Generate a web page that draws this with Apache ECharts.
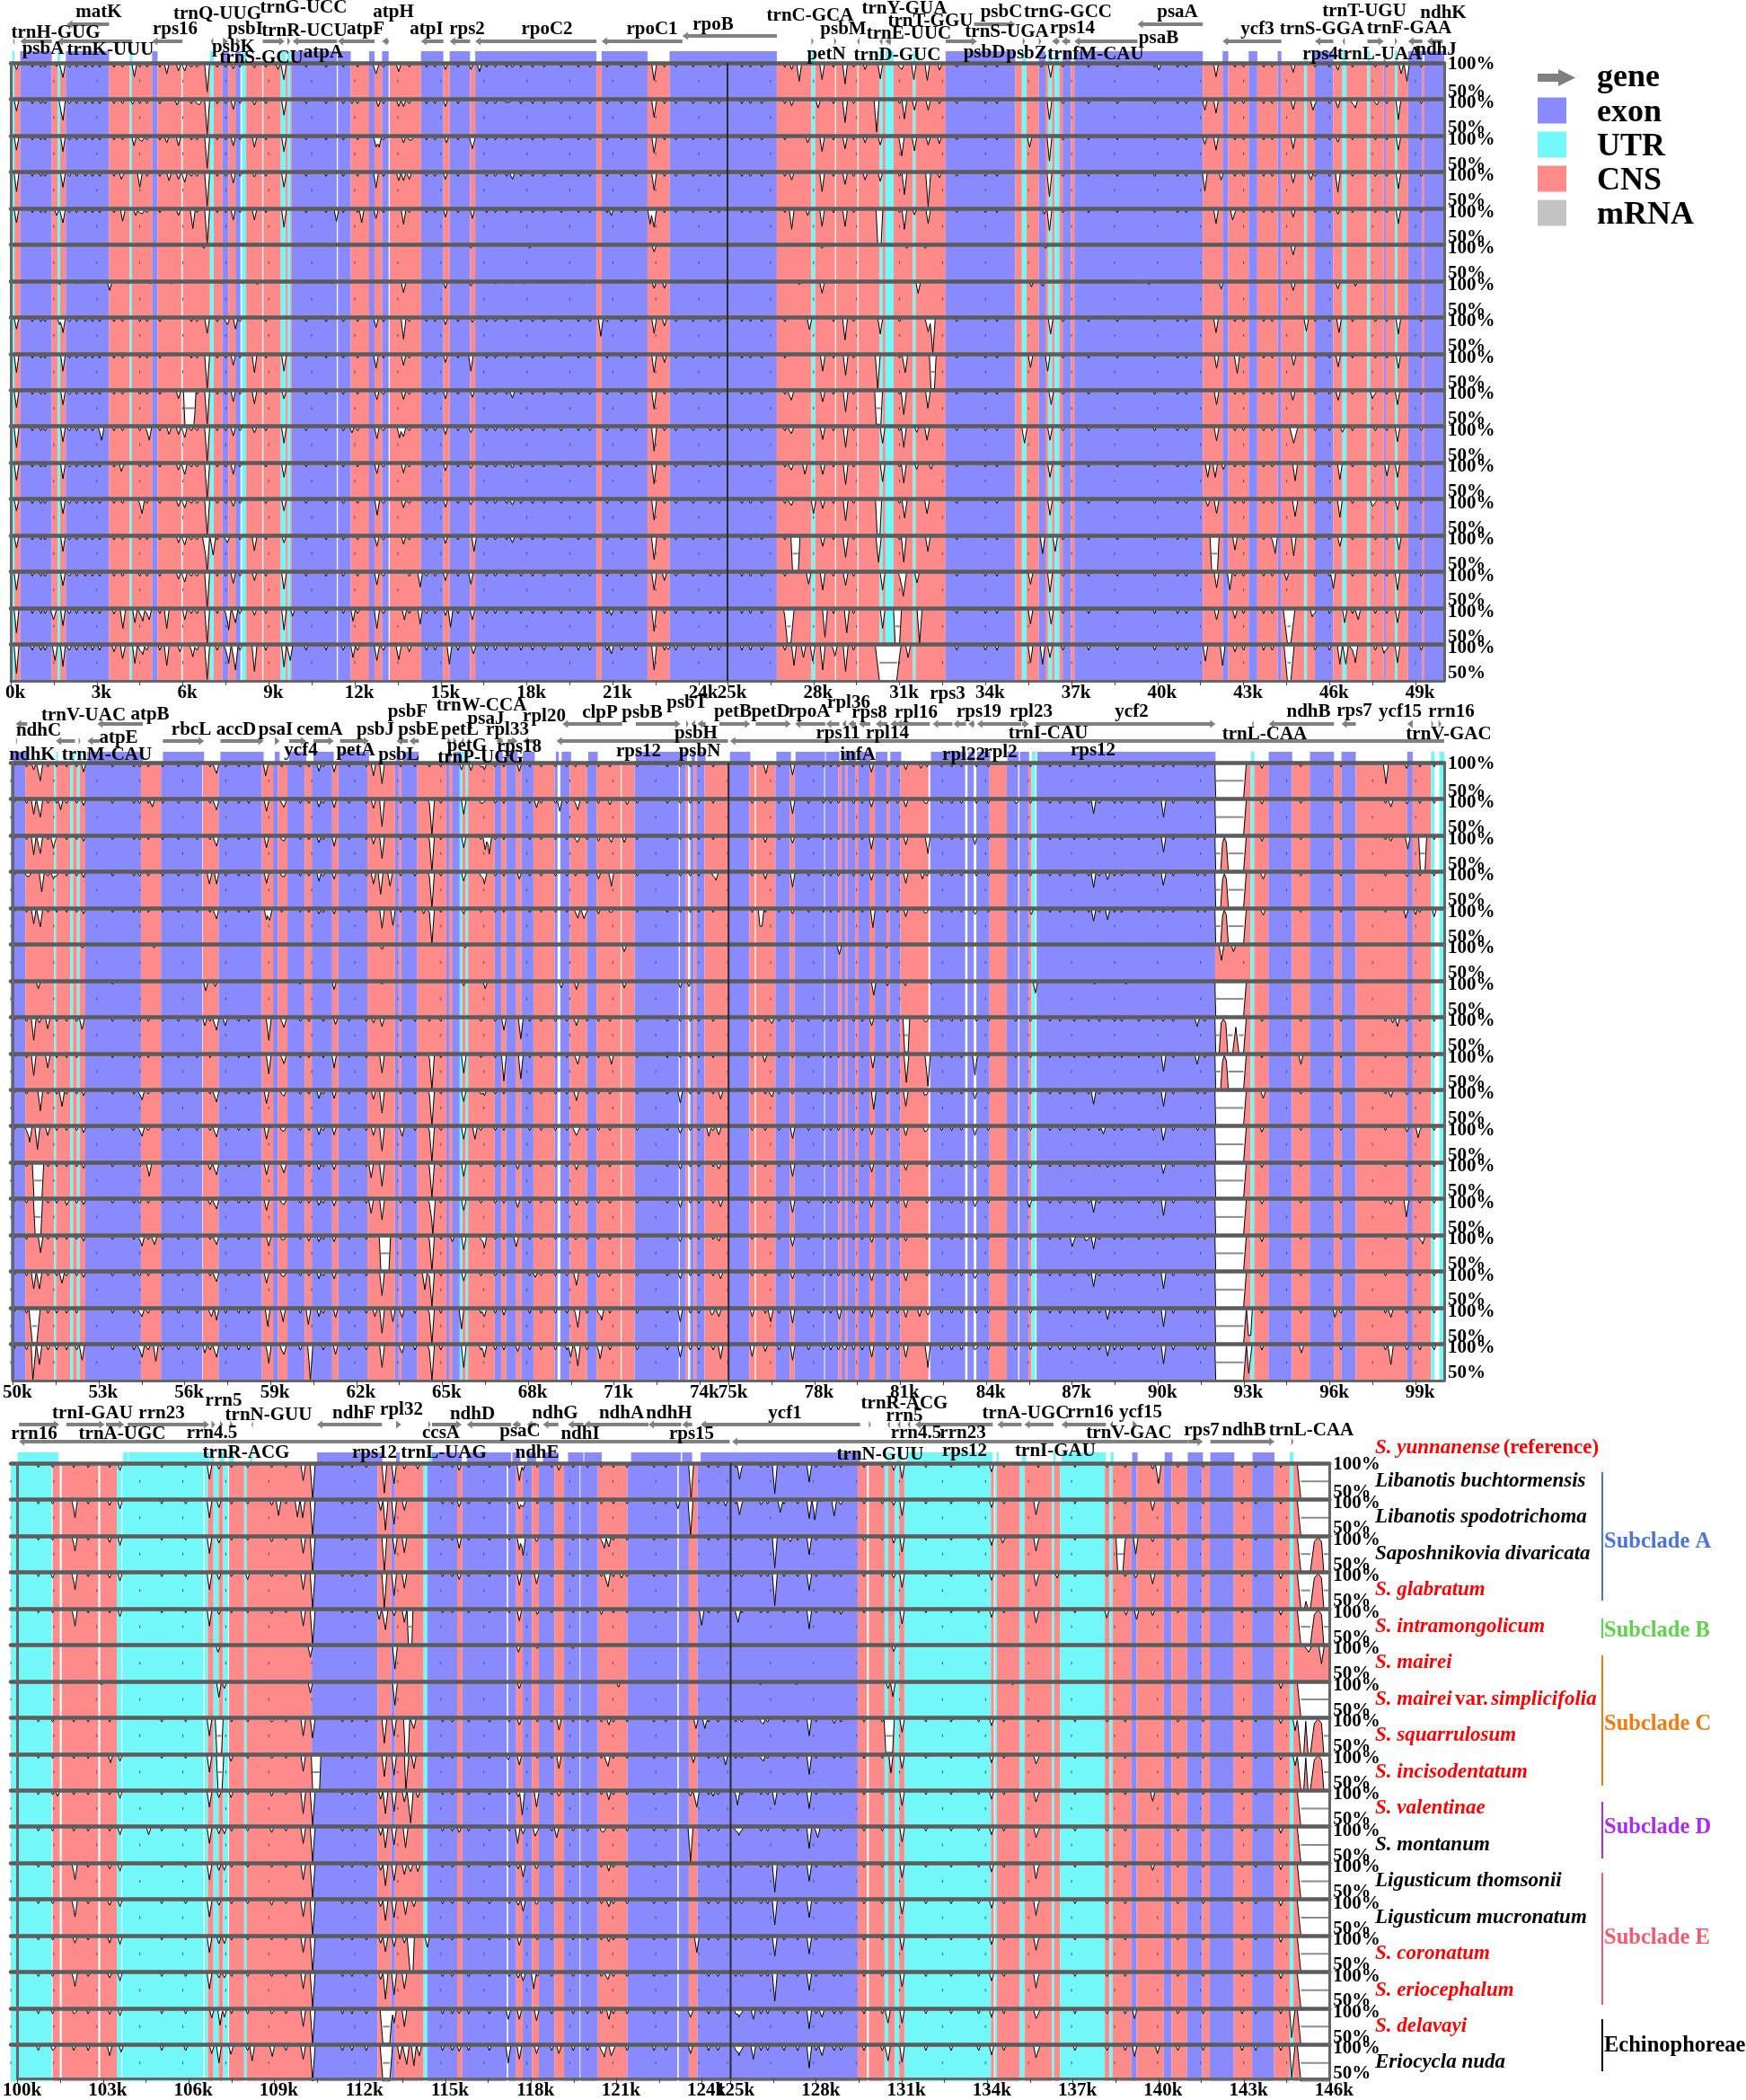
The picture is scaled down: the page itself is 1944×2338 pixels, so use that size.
<!DOCTYPE html>
<html><head><meta charset="utf-8">
<script src="https://cdn.jsdelivr.net/npm/echarts@6/dist/echarts.min.js"></script>
<style>html,body{margin:0;padding:0;background:#fff}#c{width:1944px;height:2338px}</style>
</head><body><div id="c"></div>
<script>
// ---------- species ----------
const referenceName = 'S. yunnanense';
const speciesNames = ['Libanotis buchtormensis','Libanotis spodotrichoma','Saposhnikovia divaricata','S. glabratum','S. intramongolicum','S. mairei','S. mairei var. simplicifolia','S. squarrulosum','S. incisodentatum','S. valentinae','S. montanum','Ligusticum thomsonii','Ligusticum mucronatum','S. coronatum','S. eriocephalum','S. delavayi','Eriocycla nuda'];
const speciesRed = [0,0,0,1,1,1,1,1,1,1,0,0,0,1,1,1,0];
const cladeNames = ['Subclade A','Subclade B','Subclade C','Subclade D','Subclade E','Echinophoreae'];
const legendNames = ['gene','exon','UTR','CNS','mRNA'];

// ---------- conserved-region bands [start kb, end kb, type] e=exon u=UTR c=CNS ----------
const bands1 = [[.05,.13,'u'],[.13,.33,'c'],[.33,1.43,'e'],[1.43,1.63,'c'],[1.63,1.72,'u'],[1.72,1.92,'c'],[1.92,3.43,'e'],[3.43,4.15,'c'],[4.15,4.23,'u'],[4.23,4.93,'c'],[4.93,5.12,'e'],[5.12,5.95,'c'],[6,6.95,'c'],[6.95,7.08,'u'],[7.08,7.38,'c'],[7.38,7.6,'e'],[7.6,7.84,'c'],[7.84,8.01,'e'],[8.06,8.21,'u'],[8.21,8.77,'c'],[8.81,9.42,'c'],[9.42,9.59,'u'],[9.59,9.65,'c'],[9.65,9.75,'u'],[9.75,9.8,'c'],[9.8,11.37,'e'],[11.41,11.86,'e'],[11.86,12.5,'c'],[12.5,12.69,'e'],[12.69,12.95,'c'],[12.95,13.18,'e'],[13.22,14.31,'c'],[14.31,15.09,'e'],[15.09,15.31,'c'],[15.31,16.02,'e'],[16.02,16.2,'c'],[16.2,20.43,'e'],[20.43,20.61,'c'],[20.61,22.21,'e'],[22.21,22.98,'c'],[22.98,26.72,'e'],[26.72,27.93,'c'],[27.93,28.06,'u'],[28.06,28.75,'c'],[28.79,29.53,'c'],[29.57,30.31,'c'],[30.31,30.42,'u'],[30.42,30.51,'c'],[30.51,30.79,'u'],[30.79,31.47,'c'],[31.47,31.56,'u'],[31.56,32.61,'c'],[32.61,35.04,'e'],[35.04,35.27,'c'],[35.27,35.43,'u'],[35.43,35.86,'c'],[35.86,36.09,'e'],[36.09,36.18,'c'],[36.18,36.32,'u'],[36.32,36.41,'c'],[36.41,36.57,'u'],[36.57,36.69,'c'],[36.69,36.98,'e'],[36.98,37.1,'c'],[37.1,41.58,'e'],[41.58,42.27,'c'],[42.27,42.47,'e'],[42.47,43.18,'c'],[43.18,43.48,'e'],[43.48,44.19,'c'],[44.19,44.32,'e'],[44.32,45.12,'c'],[45.12,45.21,'u'],[45.21,45.49,'c'],[45.49,46.13,'e'],[46.13,46.45,'c'],[46.45,46.59,'u'],[46.59,47.32,'c'],[47.32,47.41,'u'],[47.41,47.89,'c'],[47.89,47.96,'e'],[47.96,48.28,'c'],[48.28,48.37,'u'],[48.37,48.74,'c'],[48.74,49.24,'e'],[49.24,49.31,'c'],[49.31,50,'e']];
const bands2 = [[50,50.51,'e'],[50.51,51.51,'c'],[51.51,51.58,'u'],[51.58,52.07,'c'],[52.07,52.17,'u'],[52.17,52.31,'c'],[52.31,52.4,'u'],[52.4,52.6,'c'],[52.6,54.54,'e'],[54.54,55.24,'c'],[55.24,56.68,'e'],[56.7,57.25,'c'],[57.25,58.76,'e'],[58.76,59.15,'c'],[59.15,59.32,'e'],[59.32,59.65,'c'],[59.65,60.25,'e'],[60.25,60.5,'c'],[60.5,61.21,'e'],[61.21,61.43,'c'],[61.43,62.44,'e'],[62.44,63.4,'c'],[63.4,63.53,'e'],[63.53,63.62,'c'],[63.62,64.18,'e'],[64.18,65.19,'c'],[65.19,65.29,'e'],[65.29,65.39,'c'],[65.39,65.66,'e'],[65.66,65.75,'u'],[65.75,65.87,'c'],[65.87,65.95,'u'],[65.95,66.88,'c'],[66.88,67.11,'e'],[67.11,67.28,'c'],[67.28,67.63,'e'],[67.63,67.81,'c'],[67.81,68.23,'e'],[68.23,68.97,'c'],[68.97,69.07,'e'],[69.17,69.5,'e'],[69.5,70.1,'c'],[70.1,70.43,'e'],[70.43,71.27,'c'],[71.31,71.76,'c'],[71.76,73.3,'e'],[73.34,73.55,'e'],[73.55,73.62,'c'],[73.7,73.83,'e'],[73.83,73.91,'c'],[73.91,74.2,'e'],[74.2,75.05,'c'],[75.05,75.76,'e'],[75.76,75.95,'c'],[75.99,76.67,'c'],[76.67,77.18,'e'],[77.18,77.34,'c'],[77.34,78.37,'e'],[78.4,78.87,'e'],[78.87,78.97,'c'],[78.97,79.11,'e'],[79.11,79.18,'c'],[79.18,79.45,'e'],[79.45,79.55,'c'],[79.55,79.95,'e'],[79.95,80.14,'c'],[80.14,80.55,'e'],[80.55,80.65,'c'],[80.65,81.03,'e'],[81.03,82.01,'c'],[82.07,83.29,'e'],[83.37,83.59,'e'],[83.68,84.14,'e'],[84.14,84.74,'c'],[84.74,85.14,'e'],[85.18,85.5,'e'],[85.5,85.6,'c'],[85.6,85.74,'u'],[85.78,92.01,'e'],[92.01,93.25,'c'],[93.25,93.37,'u'],[93.37,93.87,'c'],[93.87,94.69,'e'],[94.69,95.31,'c'],[95.31,96.15,'e'],[96.15,96.41,'c'],[96.41,96.91,'e'],[96.91,98.71,'c'],[98.71,98.9,'e'],[98.9,99.54,'c'],[99.54,99.66,'u'],[99.83,100,'u']];
const bands3 = [[100,101.43,'u'],[101.46,101.71,'c'],[101.78,103.05,'c'],[103.12,103.7,'c'],[103.7,103.86,'u'],[103.89,106.72,'u'],[106.76,106.88,'u'],[106.88,107.07,'c'],[107.07,107.25,'u'],[107.25,107.41,'c'],[107.41,107.58,'u'],[107.61,108.14,'c'],[108.14,108.23,'u'],[108.23,110.5,'c'],[110.5,112.79,'e'],[112.79,113.27,'c'],[113.27,113.4,'e'],[113.4,114.4,'c'],[114.4,114.53,'u'],[114.53,115.57,'e'],[115.57,115.75,'c'],[115.75,117.3,'e'],[117.35,117.63,'e'],[117.63,117.86,'c'],[117.86,118.18,'e'],[118.18,118.42,'c'],[118.42,118.96,'e'],[118.96,119.3,'c'],[119.3,119.84,'e'],[119.87,120.48,'e'],[120.48,121.51,'c'],[121.51,123.25,'e'],[123.3,123.65,'e'],[123.65,123.95,'c'],[123.95,129.54,'e'],[129.54,129.86,'c'],[129.93,130.48,'c'],[130.48,130.61,'u'],[130.61,130.83,'c'],[130.83,130.99,'u'],[130.99,131.17,'c'],[131.17,134.19,'u'],[134.19,134.29,'c'],[134.32,134.4,'u'],[134.4,135.2,'c'],[135.2,135.36,'u'],[135.36,136.32,'c'],[136.32,136.4,'u'],[136.4,136.6,'c'],[136.6,138.16,'u'],[138.16,138.32,'c'],[138.32,138.43,'u'],[138.43,139.08,'c'],[139.08,139.27,'e'],[139.27,140.22,'c'],[140.22,140.49,'e'],[140.49,141.03,'c'],[141.03,141.56,'e'],[141.56,141.82,'c'],[141.82,142.66,'e'],[142.66,143.3,'c'],[143.3,144.07,'e'],[144.07,144.61,'c'],[144.61,144.74,'u'],[144.74,146,'c']];

// ---------- tick labels ----------
const tickLabels1 = [0,3,6,9,12,15,18,21,24,25,28,31,34,37,40,43,46,49];
const tickLabels2 = [50,53,56,59,62,65,68,71,74,75,78,81,84,87,90,93,96,99];
const tickLabels3 = [100,103,106,109,112,115,118,121,124,125,128,131,134,137,140,143,146];
const pctLabels = ['100%','50%'];

// ---------- small blips shared by most rows (kb) ----------
const small1 = [.75,1.05,1.2,2.05,2.3,2.6,2.85,3.1,3.6,3.9,4.5,4.75,5.2,6.3,6.5,7.2,7.5,8,8.9,10.3,11,11.6,12.1,13,13.9,14.5,14.8,15.6,16.6,16.9,17.3,17.8,18.2,18.6,19.2,19.8,20.2,20.8,21.3,21.8,22.8,23.2,23.8,24.4,24.7,25.5,25.8,26.2,27,28.7,29.4,31,33,34,34.4,36.7,37.6,38.6,39.9,40.7,41,42.7,43,43.7,44,45.5,46,46.8,47.6,48,49.2];
const small2 = [50.1,50.55,51.3,51.6,51.95,52.3,53.55,54.3,54.5,54.8,55.3,55.85,56.5,56.95,57.5,57.95,58.3,58.95,59.45,60.1,60.4,60.9,61.8,62.4,63.6,64.1,64.6,65,66.4,66.9,67.2,68.1,68.5,69,69.4,69.7,70.1,70.5,70.9,71.85,72.9,73.35,73.7,74,74.5,75.86,76.32,76.8,77.27,77.83,78.35,78.6,78.87,79.4,79.7,80.58,80.93,81.96,82.47,82.82,83.16,83.68,84.1,85.05,85.57,86.25,86.6,87.1,87.6,87.97,88.5,88.75,89.35,89.86,90.2,90.55,91.4,91.65,93.64,95,96.4,97.95,98.7,99.15,99.65];
const small3 = [100.96,101.46,102.2,102.7,103.45,105.27,106.1,107.7,108.26,109.1,109.6,111.57,111.9,112.4,115.06,115.4,115.97,116.7,117.38,118.37,118.87,119.62,120.12,120.6,121.02,121.5,122.44,122.85,124.34,124.67,125.29,125.5,126.17,126.4,126.97,127.45,128.09,128.72,128.96,129.76,130.4,131.92,132.8,133.76,134.64,135.84,137.12,138.24,138.87,140.71,141.59,142.95,143.43,144.3];
const smallLevel = [94,94,94,94,94,null,null,94,94,94,94,94,94,94,94,92.5,92];

// ---------- identity dips per row: [kb, % identity, slope kb, flat half-width kb] ----------
const dips1 = [
[[.2,91],[1.6,95],[1.82,80],[4.31,81],[5.44,85],[5.85,89],[6.07,89],[6.85,60],[7.76,92],[8.5,93],[9.32,91],[9.53,77],[12.74,85,.12],[13.53,88,.1],[15.16,91],[16.05,91],[16.35,88],[17.5,94],[22.44,76],[27.24,91],[27.5,74.5],[28.3,77],[29.1,71],[29.8,91],[30.33,78],[31.08,91],[31.5,77],[31.97,76],[32.4,90],[35.95,94],[36.27,80],[40.05,90],[42.04,81],[44.73,87],[46.29,90],[48.5,85],[48.7,74.5]],
[[.2,84],[1.76,82],[1.82,71],[4.25,93],[5.8,92],[6.6,90],[6.85,52],[7.76,86],[8.5,92],[9.53,78],[11.9,94],[12.82,90],[13.53,90],[13.7,90],[15.16,90],[17.4,95,.12],[22.44,75],[27.24,91],[28.16,88],[29.1,68],[30.2,55],[31.17,73],[31.52,85],[32,85],[32.39,94],[36.23,72],[41.65,85],[42.04,81],[44.73,86],[45.42,85],[46.29,88],[46.9,88],[47.66,92],[48.4,72]],
[[.2,80],[1.82,78],[4.3,86],[4.6,90],[5.44,90],[5.85,86],[6.85,55],[7.76,86],[8.5,84],[9.53,78],[12.74,84],[12.85,84],[13.7,90],[14,92],[15.2,90],[16.1,82,.12],[17.5,95],[22.44,76],[27.8,90],[28.3,78],[29.1,82],[29.8,90],[30.33,87],[31.08,72],[31.52,79],[32,87],[32.39,89],[35.54,84],[36.23,65],[41.65,88],[42.04,80],[44.73,82],[46.29,91],[48.4,80]],
[[.2,73],[1.82,79],[3.86,90],[4.5,79],[5.52,88],[5.85,90],[6.07,86],[6.85,53],[7.76,85],[8.5,93],[9.53,79],[12.74,78],[13.53,88],[13.7,88],[13.9,90],[15.16,90],[17.5,90],[22.44,75],[27.24,89],[28.3,73],[29.1,83],[29.8,89],[30.33,87],[31.17,69],[32,52],[32.39,92],[36.23,66],[41.65,74],[42.22,89],[44.73,85],[45.35,89],[46.29,72],[48.4,77]],
[[.2,80],[1.6,90],[1.82,80],[3.91,80],[4.36,90],[4.6,90],[5.85,90],[6.35,72],[6.85,52],[7.76,84],[8.5,84],[9.53,74],[11.36,82],[12.24,80],[12.74,86],[13.7,78],[15.16,88],[16.1,86],[20.95,90],[22.3,78],[22.44,74],[27.24,71],[27.8,90],[28.3,75],[29.1,75],[30.3,51,.06,.06],[31.17,71],[31.52,91],[32,79],[36.05,92],[36.23,69],[42.04,79],[42.63,82,.1],[44.73,88],[46.29,92],[48.4,79]],
[[6.73,95],[16.05,95],[18.1,95],[22.44,90],[28.3,95],[31.25,95],[31.9,95],[36.1,95],[44.73,86]],
[[1.7,95],[2.3,96],[3.45,87],[4.1,96],[4.86,96],[5.6,96],[7.35,96],[8.1,96],[8.6,95],[11.2,96],[13.7,84],[15.16,90],[16.05,93],[16.9,96],[17.5,96],[17.9,96],[20,96],[22.44,90],[22.8,90],[27.5,95],[28.3,83],[31.65,83],[35.6,92],[36,93],[39.7,95],[42.22,89],[44.73,87],[46.29,89],[46.9,93]],
[[.2,84],[1.7,90],[1.82,79],[6.85,78],[7.56,90],[7.84,84],[12.74,86],[13.7,70],[15.16,90],[16.1,93],[20.58,74],[22.44,78],[22.8,88],[27.86,83],[29.1,69],[30.33,77],[32,80,.12],[32.16,50],[36.27,77],[42.04,79],[45.19,81],[46.33,79],[48.4,77]],
[[.2,74],[1.82,76],[6.85,52],[7.76,84],[8.5,74],[9.53,76],[12.74,80],[13.7,84],[15.16,88],[16.05,76],[22.44,74],[22.8,88],[28.32,76],[29.12,70],[30.24,52],[31.2,74],[32.16,52,.06,.06],[35.57,81],[36.17,76],[42.06,80],[42.78,73],[44.75,84],[46.3,82],[48.4,80]],
[[.2,76],[1.82,80],[5.85,88],[6.24,50,.06,.16],[6.85,53],[7.76,84],[8.5,81],[9.53,88],[12.77,87],[13.7,87],[15.16,88],[16.1,90],[17.5,89],[22.44,74],[27.23,86],[28.32,84],[29.12,70],[30.27,53,.06,.08],[31.15,66,.1],[31.99,75],[36.29,80],[42.06,80],[44.72,86],[46.3,86],[47.5,88],[48.37,80]],
[[.2,71],[1.82,79],[3.17,81],[4.83,81],[5.52,89],[5.85,89],[6.07,85],[6.85,52],[7.76,87],[8.5,91],[9.53,77],[11.9,91],[12.77,83],[13.56,84],[13.7,86],[15.16,89],[16.05,91],[17.5,94],[22.44,66],[27.23,90],[28.32,82],[29.12,71],[30.41,77],[31.15,71],[31.6,92],[31.96,81],[35.36,77,.1],[36.25,81],[42.06,80],[44.75,77,.15],[46.45,92],[48.37,79]],
[[.2,76],[1.82,78],[3.86,88],[5.85,90],[6.07,84],[6.85,51],[7.76,84],[9.53,80],[12.77,85],[13.7,86],[15.16,89],[16.05,92],[17.5,93],[22.44,71],[27.23,90],[27.7,84],[28.32,84],[29.12,70],[30.41,74],[31.15,72],[31.6,91],[32.1,91],[36.25,80],[41.75,80],[42.01,80],[42.3,91],[44.8,75],[46.36,77],[48,82],[48.37,80]],
[[.2,84],[1.82,80],[4.58,80],[5.85,90],[6.07,88],[6.85,51],[7.76,90],[9.53,84],[12.78,78],[13.7,88],[15.16,89],[16.05,92],[17.5,92],[22.44,71],[27.23,91],[28,80],[28.32,87],[29.12,70],[30.27,52,.06,.05],[31.18,74],[31.96,80],[36.25,78],[41.75,90],[42.06,80],[44.8,76,.1],[46.36,75],[47.5,90],[48.37,85]],
[[.2,83],[1.82,78],[5.85,90],[6.07,87],[6.8,72,.12],[6.85,50],[7.06,73],[7.56,90],[8.5,79],[9.53,90],[12.77,85],[13.7,88],[15.16,89],[16.16,78],[17.5,90],[22.44,67,.1],[27.37,50,.06,.1],[28.32,85],[29.12,70,.1],[30.27,63,.1],[31.15,63],[31.99,78],[35.99,75],[36.43,78],[41.99,50,.06,.1],[42.7,80],[44.1,75],[44.75,72],[46.36,85],[48.42,80]],
[[.2,75],[1.82,81],[5.85,90],[6.07,86],[6.85,50],[7.76,84],[8.5,88],[9.53,76],[12.77,82],[14.28,79],[15.16,88],[16.05,83],[22.44,75],[22.8,88],[27.83,83],[28.32,75],[29.12,81],[30.41,75],[31.13,66,.12],[31.61,85],[35.57,83],[36.25,72],[42.06,78],[42.52,75],[44.5,88],[46.13,77],[48.37,75]],
[[.2,66],[1.49,84,.12],[1.82,76],[3.6,92],[3.91,72,.1],[4.33,80],[4.6,82],[4.83,84],[5.44,72],[6.07,84],[6.85,52],[7.6,70],[7.84,80],[8.5,90],[9.53,70],[9.83,89],[11.94,82],[12.77,72,.1],[13.73,84],[14.28,78],[15.16,90],[15.34,74],[16.1,84,.1],[20.95,90],[22.44,68],[27.15,52,.12,.06],[28.4,60],[29.16,66],[30.41,72],[30.93,50,.06,.08],[31.7,51],[35.57,78],[36.29,78],[42.06,84],[42.7,86,.1],[44.59,52,.15,.06],[45.4,88],[46.53,80],[47,84],[48.37,80]],
[[.2,60],[1.54,78,.1],[1.82,70],[3.6,90],[3.91,78],[4.33,74],[4.6,86],[5.44,71],[5.9,90],[6.35,83],[6.85,52],[7.6,74],[7.84,65],[8.5,63],[9.53,69],[9.75,78],[11.94,82],[12.77,78,.1],[13.53,79,.1],[13.9,90],[15.3,73],[16.14,87,.1],[20.95,87],[22.44,65],[22.94,93],[27.32,71],[27.65,82],[27.97,77],[28.32,65],[28.75,84],[29.12,63],[30.6,50,.15,.3],[31.3,82],[35.57,75],[35.99,73],[36.25,82],[41.67,77],[42.27,71],[42.7,90],[44.59,50,.12,.06],[46.36,73],[46.57,73],[46.9,75],[47.9,88],[48.37,75]]
];
const dips2 = [
[[50.8,90],[51.03,75],[52.54,87],[57.18,85],[58.89,82],[60.75,88],[61.28,87],[62.65,82],[62.95,71],[65.72,90],[66.05,89],[66.52,90],[67.74,88],[76.34,85],[77.27,83],[80.02,87],[81.22,90],[81.75,92],[93.64,92],[97.97,71],[98.69,92]],
[[50.8,79],[51.03,75],[51.74,85],[52.54,91],[54.94,89],[57.18,85],[58.92,83],[59.54,87],[60.75,89],[61.28,88],[62.65,87],[62.95,62],[64.69,50],[65.8,79],[66.5,93],[68.34,88],[69.15,83],[69.78,85],[70.9,92],[71.5,92],[77.27,80],[80.02,89],[81.22,89],[81.9,93],[85.1,93],[87.77,80],[90.21,75],[93.64,93],[98.14,89],[98.7,93]],
[[50.8,73],[51.03,75],[51.49,82],[52.54,92],[57.18,85],[58.92,83],[59.54,91],[60.75,90],[61.28,85],[62.65,88],[62.95,68],[64.69,50],[65.8,83],[66.55,80],[66.69,74],[69.78,90],[70.5,92],[70.95,90],[71.4,90],[76.32,90],[77.27,89],[80.02,81],[81.22,87],[81.99,75],[83.63,87],[88,93],[90.21,77],[93.64,92],[98.14,92],[98.73,81],[99.25,50,.06,.08]],
[[50.65,91],[51.08,72],[51.49,90],[52.54,92],[56.93,83],[57.18,83],[58.92,84],[59.54,92],[60.75,87],[61.28,90],[62.65,83],[62.9,69],[63.23,80],[64.69,50],[65.8,87],[66.52,83],[67.74,90],[70.5,90],[70.95,80],[74.6,88],[76.32,90],[77.27,79],[80.02,88],[81.22,84],[81.8,90],[87.77,78],[88.26,89],[90.21,79],[93.69,90],[98.7,93]],
[[50.8,78],[51.03,74],[52.54,92],[57.18,85],[58.92,84],[59.04,81],[60.75,92],[61.28,92],[62.95,72],[63.33,76],[64.4,92],[64.69,50],[65.8,92],[69.78,86],[70,85],[70.5,92],[70.95,92],[76.17,75,.06,.04],[77.27,92],[80.07,73],[81.22,88],[81.9,91],[83.63,91],[85.6,91],[87.77,82],[88.26,84],[93.69,90],[98.66,86],[99,91],[99.65,88]],
[[52.5,95],[55,95],[62.95,93],[65.85,95],[71.4,90],[78.9,86],[80.55,95],[92.23,78],[92.65,90]],
[[50.96,89],[53.55,95],[56.8,86],[57.13,92],[60.1,95],[61.28,88],[62.95,95],[65.8,93],[66.55,89],[69.2,90],[69.73,88],[71.4,90],[73.35,90],[73.65,92],[80.1,80],[80.58,93],[81.2,93],[82.1,95],[85.74,83],[87.8,95],[88.9,95]],
[[50.8,68],[51,92],[51.29,84],[52.49,83],[56.77,88],[57.18,82],[57.48,88],[59,68],[59.54,84],[61.33,90],[62.65,92],[62.95,87],[67.2,82],[67.79,70],[69.73,88],[76.55,91],[77.27,93],[80.03,88],[81.24,52,.06,.06],[81.9,92],[91.38,87],[98.2,92],[98.37,87]],
[[50.8,69],[51.29,80],[59,72],[59.54,84],[61.28,80],[62.95,73],[64.69,50],[65.8,73],[67.2,62],[67.79,65],[69.78,85],[70.95,85],[76.3,88],[80.07,80],[81.24,60],[81.99,55],[83.63,70],[90.21,75],[91.38,85],[95,85]],
[[51.03,71],[51.79,77],[52.54,92],[54.58,86],[57.18,83],[58.92,81],[59.54,90],[60.75,88],[61.28,88],[62.65,87],[62.95,68],[64.69,50],[65.8,84],[66.52,92],[69.73,85],[73.35,82],[74.76,87],[76.55,90],[80.1,73],[81.22,77],[81.9,90],[83.63,87],[87.77,80],[90.21,77],[93.69,88],[98.14,90],[98.7,93]],
[[50.66,78],[50.93,68],[51.29,87],[52.54,91],[54.58,86],[57.18,85],[58.92,82],[59.54,92],[60.75,88],[61.28,88],[62.65,87],[62.95,66],[63.65,86],[64.69,50],[65.8,82],[66.19,82],[69.73,87,.15],[73.35,90],[74.35,86],[74.7,88],[77.27,83],[80.03,88],[81.22,87],[81.9,90],[83.63,87],[88.11,89],[90.21,78],[93.64,92],[98.7,92],[99.09,84]],
[[50.95,52,.06,.14],[52.54,92],[54.83,81],[56.95,90],[57.18,83],[58.92,83],[59.54,84],[60.75,90],[61.28,90],[62.57,79],[62.95,67],[64.69,52],[65.8,81],[67.68,91],[69.73,90],[73.35,91],[74.7,91],[77.27,81],[80.03,87],[81.22,89],[83.63,92],[85.55,92],[88.26,93],[90.21,83],[93.64,93]],
[[50.95,51,.06,.1],[51.96,90],[52.54,92],[56.95,92],[57.18,86],[58.92,84],[59.54,91],[60.75,91],[61.28,90],[62.57,80],[62.95,71],[64.72,50],[65.8,84],[67.68,88],[69.73,91],[73.35,88],[74.76,89],[77.27,81],[80.02,88],[81.22,88],[83.63,89],[85.53,88],[87.77,81],[90.21,77],[93.64,93],[98.14,92],[98.68,75]],
[[51.04,76],[52.54,92],[54.58,85],[55.02,87],[57.18,87],[59,85],[59.54,93],[60.4,92],[60.75,91],[61.28,91],[63.05,50,.06,.14],[64.69,50],[65.4,91],[65.8,80],[66.52,82],[67.63,84,.1],[69.73,92],[73.35,91],[74.7,92],[77.27,85],[80.03,90],[81.22,92],[87.03,82],[87.5,92],[87.77,81],[90.21,94],[93.64,91],[99.25,88]],
[[50.8,76],[51,76],[51.79,84],[52.54,92],[57.18,86],[58.92,84],[59.54,92],[60.75,90],[61.28,90],[62.95,67],[64.44,75],[64.69,52],[65.8,87],[68.3,92],[69.73,81],[70.5,92],[73.35,90],[74.76,90],[77.27,90],[80.03,87],[81.22,87],[83.63,90],[87.77,79],[90.21,76],[93.64,93]],
[[50.83,52,.12,.08],[54.58,88],[57,88],[57.18,83],[58.96,75],[59.5,81],[60.38,77],[60.75,88],[61.33,87],[62.7,88],[62.95,65],[63.33,81],[63.65,87],[64.69,50],[65.72,71],[66.52,88],[67.2,90],[69.78,73],[70.61,83],[73.35,81],[74.45,90],[74.7,88],[75.86,88],[76.51,81],[77.27,79],[78.9,84],[80.03,87],[81.22,87],[81.7,88],[82,90],[88.26,84],[90.21,74],[93.21,62,.06,.04],[96.19,87],[98.14,87]],
[[50.8,50,.06,.03],[51,72],[52.49,78],[54.58,82],[55.06,76],[56.77,88],[57.18,82],[59,74],[59.54,84],[60.45,50],[61.33,86],[62.95,68],[63.65,88],[64.69,50],[65.8,68],[66.52,82],[67.68,90],[69.53,82],[69.78,70],[70.56,80],[73.35,82],[74.76,80],[75.86,83],[76.32,90],[77.27,78],[79.1,92],[80.03,82],[80.58,92],[81.22,82],[81.99,68],[83.63,92],[86.6,92],[88.26,84],[90.21,73],[93.21,60,.06,.03],[95.02,88],[98.14,72],[98.7,92]]
];
const dips3 = [
[[103.81,90],[106.93,78],[107.26,92],[109.1,94],[110.2,76],[110.53,50],[113.03,59],[113.37,72],[113.73,92],[114.2,92],[115.64,90],[117.74,76],[117.87,90],[119.12,90],[123.73,50],[125.42,78],[126.65,58],[127.85,74],[130.8,90],[131.09,79],[134.21,88],[139.83,92],[140.04,72]],
[[102.24,75],[103.45,92],[103.81,87],[106.93,75],[107.26,89],[109.1,92],[109.34,78],[110,76],[110.18,75],[110.53,50],[112.9,85],[113.07,58],[113.37,66],[113.73,85],[115.64,90],[117.74,87],[117.87,90],[123.27,87],[123.71,50],[124.93,91],[125.42,79],[126.18,92],[126.84,82],[127.85,74],[128.05,72],[128.72,77],[128.96,93],[130.8,92],[131.09,78],[134.21,89],[135.76,79],[139.83,85]],
[[102.24,79],[103.45,91],[103.81,87],[106.93,76],[107.26,90],[109.1,92],[110.2,76],[110.53,50],[113.03,50],[113.4,75],[113.73,77],[115.64,83],[117.74,81],[117.87,73],[118.34,92],[120.7,83],[120.86,85],[126.65,56],[127.2,92],[127.85,74],[129.8,92],[130.8,90],[131.09,78],[134.21,87],[134.6,90],[135.76,79],[138.71,50,.06,.1],[139.24,75],[139.83,92]],
[[101.46,92],[102.24,76],[103.45,92],[103.81,88],[106.93,76],[107.26,90],[108.26,90],[110.2,76],[110.53,50],[113.03,50],[113.37,68],[113.73,78],[115.64,90],[117.74,82],[118.34,84],[120.83,80],[121.3,92],[126.65,54],[127.85,75],[130.8,92],[131.09,79],[134.21,89],[135.76,81],[136.5,92],[139.24,92],[139.83,84],[144.3,91]],
[[102.24,76],[103.81,89],[106.93,76],[107.26,92],[109.1,93],[110.2,76],[110.53,50],[112.85,85],[113.07,71],[113.37,90],[113.73,81],[113.93,50,.04,.06],[117.74,83],[118.37,92],[120.6,92],[124.1,77],[125.37,81],[127.85,72],[128.96,92],[131.09,79],[134.21,88],[135.76,80],[138.23,87],[138.9,91],[139.27,85],[139.83,90],[144.3,91]],
[[107.23,90],[110.45,83],[113.4,67],[117.71,90],[118.37,95],[119.6,95],[130.8,91]],
[[103.15,95],[107.26,78],[107.45,90],[110.45,84],[113.4,67],[117.74,90],[121.2,92],[126.15,95],[127.4,95],[130.6,90],[130.77,79],[134.95,95],[144.3,90]],
[[107.27,50,.06,.08],[106.93,75],[109.12,92],[110.2,75],[110.53,72],[113.03,65],[113.37,75],[113.81,50,.06,.05],[114.06,85],[117.74,90],[119.12,83],[120.86,90],[123.9,85],[124.21,85],[126.25,91],[127.85,75],[128.72,92],[130.64,52,.06,.12],[131.09,80],[134.21,89],[144.3,92],[144.8,82]],
[[103.48,88],[103.81,90],[106.93,75],[107.3,50,.06,.07],[107.68,90],[109.12,92],[110.2,76],[110.65,50,.05,.12],[113.03,69],[113.37,71],[113.81,50,.05,.03],[114.06,80],[117.35,92],[117.74,85],[119.12,80],[120.83,83],[123.81,88],[124.93,85],[126.25,90],[127.85,72],[130.7,74,.08],[131.09,80],[134.21,88],[135.76,86],[144.3,92],[144.8,84]],
[[101.63,92],[103.81,89],[106.93,77],[107.26,90],[107.68,90],[109.1,92],[110.2,68],[110.53,52],[112.9,88],[113.07,68],[113.37,71],[113.73,84],[113.95,55],[114.2,90],[117.7,91],[117.84,66],[118.34,77],[119.12,92,.1],[120.86,87],[123.7,92],[123.93,77],[124.5,92],[125.35,80],[126.65,80],[127.85,75],[131.09,79],[134.21,88],[135.76,84],[139.83,85]],
[[103.81,89],[104.81,89],[106.93,77],[107.26,90],[107.45,90],[109.1,92],[110.2,77],[110.53,52],[112.9,88],[113.07,71],[113.37,75],[113.77,71],[115.64,92],[117.68,77],[117.87,90],[118.29,87],[119.04,85],[120.7,90],[123.71,52],[125.4,88],[127.85,70],[128.15,85],[131.09,79],[134.21,89],[135.76,85],[144.3,91]],
[[102.24,77],[103.45,92],[103.81,89],[106.93,77],[107.26,90],[107.45,90],[110.2,77],[110.53,52],[112.9,90],[113.07,69],[113.37,76],[113.73,84],[113.95,88],[114.2,88],[117.7,92],[117.87,81],[118.34,92],[120.86,89],[126.65,60],[127.85,75],[131.09,80],[134.21,88],[135.76,78],[139.83,90],[144.3,91]],
[[102.24,76],[103.45,92],[103.81,90],[106.93,76],[107.26,92],[109.1,92],[110.2,76],[110.53,50],[112.9,90],[113.07,71],[113.37,75],[113.77,79],[114.06,90],[117.7,92],[117.87,84],[118.34,93],[120.86,90],[126.65,65],[127.85,75],[131.09,80],[134.21,88],[135.76,78],[144.3,91]],
[[102.24,90],[103.45,90],[103.81,88],[106.93,77],[107.26,89],[107.45,89],[110.2,77],[110.53,50],[112.9,90],[113.07,78],[113.37,85],[113.73,90],[113.98,50,.05,.05],[114.53,84],[117.74,87],[120.86,92],[123.93,77],[126.65,72],[127.85,75],[131.09,80],[134.21,88],[135.76,80],[144.3,91]],
[[102.24,80],[103.45,92],[103.81,88],[106.93,77],[107.26,92],[107.45,92],[110.2,77],[110.53,52],[112.9,90],[113.07,63],[113.37,69],[113.73,77],[117.7,92],[117.87,88],[118.24,77],[120.83,90],[126.65,60],[127.85,75],[131.09,80],[134.21,88],[135.76,78],[144.3,91]],
[[101.46,93],[102.24,91],[103.45,92],[103.81,90],[107.01,87],[107.3,77],[107.45,88],[109.12,91],[110.2,75],[110.53,52],[113.1,52,.1,.12],[113.37,80],[113.73,75],[115.64,93],[117.35,85],[117.74,85],[118.34,83],[120.86,85],[123.71,88,.12],[125.4,88],[125.9,85],[127.85,72],[128.3,88],[130.6,80],[131.09,80],[134.21,88],[135.76,86],[139.2,86],[144.7,60,.08,.02]],
[[101.49,90],[103.45,85],[103.85,90],[107.01,88],[107.26,75],[107.68,87],[108.42,78],[109.12,84],[110.2,80],[110.53,50],[113.1,50,.1,.12],[113.57,80],[113.81,73],[114.06,71],[114.25,85],[115.64,91],[117.35,75],[117.74,80],[118.34,88],[119.12,88],[120.7,83],[120.95,83],[123.71,88],[125.4,85],[125.9,80],[127.85,68],[128.3,85],[130.6,78],[131.09,76],[134.21,86],[135.76,82],[139.2,84],[140,88],[144.7,55,.08,.02]]
];

// ---------- identity profile of the gap regions ----------
const gapBlank2 = [[92,100],[92.03,50],[93,50],[93.1,100]];
const gapPeak2 = [[92,100],[92.03,50],[92.2,50],[92.27,90],[92.33,97],[92.4,90],[92.47,50],[93,50],[93.1,100]];
const gapTwin2 = [[92,100],[92.03,50],[92.15,50],[92.22,92],[92.3,97],[92.38,92],[92.45,50],[92.62,50],[92.73,86],[92.84,50],[93,50],[93.1,100]];
const gapRows2 = ['b','b','p','p','p','','b','t','p','b','b','b','b','b','b','b','b'];
const gapBlank3 = [[144.87,100],[145,50],[146.5,50]];
const gapPeak3 = [[144.87,100],[145,50],[145.33,50],[145.47,92],[145.6,98],[145.72,92],[145.8,50],[146.5,50]];
const gapSmall3 = [[144.87,100],[145,50],[145.12,50],[145.18,60],[145.24,50],[145.33,50],[145.47,92],[145.6,98],[145.72,92],[145.8,50],[146.5,50]];
const gapTwin3 = [[144.87,100],[145,50],[145.1,50],[145.17,95],[145.25,50],[145.33,50],[145.47,92],[145.6,98],[145.72,92],[145.8,50],[146.5,50]];
const gapMairei3 = [[145.1,100],[145.27,90],[145.4,100],[145.62,100],[145.72,74],[145.82,100]];
const gapRows3 = ['b','b','p','s','p','m','b','t','t','b','b','b','b','b','b','b','b'];

// ---------- genes: [start kb, end kb, direction, lane] ----------
const genes1 = [[.08,.13,-1,1],[.33,1.43,-1,1],[1.63,4.23,-1,1],[1.96,3.43,-1,0],[4.93,5.99,-1,1],[6.98,7.06,-1,1],[7.4,7.58,1,1],[7.86,8,1,1],[8.06,8.15,-1,1],[8.79,9.55,1,1],[9.65,9.75,1,1],[9.83,11.38,-1,1],[11.41,12.69,-1,1],[12.95,13.18,-1,1],[14.31,15.09,-1,1],[15.31,16.02,-1,1],[16.2,20.43,-1,1],[20.61,23.43,-1,1],[23.43,26.72,-1,2],[27.93,28,1,1],[28.72,28.8,1,1],[29.52,29.6,-1,1],[30.3,30.4,-1,1],[30.5,30.7,-1,1],[32.61,33.7,1,1],[33.6,35.04,1,0],[35.3,35.38,1,1],[35.86,35.95,1,1],[36.32,36.57,-1,1],[36.65,36.95,-1,1],[37.1,39.3,-1,1],[39.3,41.58,-1,0],[42.27,44.32,-1,1],[45.49,46.13,-1,1],[46.45,46.53,-1,1],[47.32,47.89,1,1],[48.28,48.36,1,1],[48.74,49.24,-1,1],[49.4,49.95,-1,1]];
const genes2 = [[50.1,50.5,-1,0],[52.95,54.54,-1,0],[50.1,50.14,-1,1],[51.5,52.17,-1,1],[52.3,52.36,1,1],[52.6,53.03,-1,1],[55.24,56.68,1,1],[57.25,58.76,1,1],[59.15,59.32,1,1],[59.65,60.25,1,1],[60.5,61.21,1,1],[61.43,62.44,1,1],[63.4,63.8,-1,1],[63.85,64.18,-1,1],[65.19,65.29,1,1],[65.39,65.5,1,1],[65.66,65.75,-1,1],[65.87,65.95,-1,1],[66.88,67.11,-1,1],[67.28,67.63,1,1],[67.81,68.23,-1,1],[69.2,71.28,-1,0],[71.76,73.32,1,0],[73.52,73.6,1,0],[73.7,73.83,-1,0],[73.91,74.2,-1,0],[74.68,75.76,1,0],[75.95,77.18,1,0],[77.32,78.38,-1,0],[78.4,78.87,-1,0],[78.97,79.11,-1,0],[79.18,79.45,-1,0],[79.55,79.95,-1,0],[80.14,80.55,-1,0],[80.65,81,-1,0],[80.86,82.03,-1,0],[82.13,82.82,-1,0],[82.85,83.3,-1,0],[83.37,83.59,-1,0],[83.68,85.22,-1,0],[85.25,85.5,1,0],[85.74,92.01,1,0],[93.28,93.34,-1,0],[93.87,96.15,-1,0],[96.41,96.91,-1,0],[98.71,98.9,-1,0],[99.55,99.62,1,0],[99.8,99.9,1,0],[68.99,74.98,-1,1],[75.05,100,-1,1]];
const genes3 = [[100.05,101.46,1,0],[101.71,103.05,1,0],[103.1,103.74,1,0],[103.86,106.72,1,0],[106.8,106.93,1,0],[107.1,107.2,1,0],[107.45,107.55,1,0],[108.2,108.25,-1,0],[110.5,112.77,-1,0],[113.27,113.45,1,0],[114.4,114.48,1,0],[114.53,115.57,1,0],[115.75,117.3,-1,0],[117.35,117.63,-1,0],[117.86,118.18,-1,0],[118.42,118.96,-1,0],[119.3,119.84,-1,0],[119.87,122.12,-1,0],[122.12,123.27,-1,0],[123.3,123.65,-1,0],[123.95,129.54,-1,0],[129.85,129.92,1,0],[130.5,130.58,-1,0],[130.85,130.95,-1,0],[131.2,131.3,-1,0],[131.47,134.19,-1,0],[134.35,135.2,-1,0],[135.3,136.32,-1,0],[136.6,138.16,-1,0],[138.3,138.4,-1,0],[139.1,139.25,1,0],[100.05,124.97,-1,1],[125.05,141.03,-1,1],[141.03,141.56,1,1],[141.82,144.07,1,1],[144.66,144.74,1,1]];
// ---------- gene names with label anchors ----------
const geneLabels1 = [['trnH-GUG',62,37],['matK',110,14],['psbA',48,55],['trnK-UUU',123,56],['rps16',195,33],['trnQ-UUG',242,16],['trnG-UCC',338,9],['psbI',273,33],['trnR-UCU',339,35],['atpF',407,33],['atpH',438,14],['psbK',260,53],['trnS-GCU',291,65],['atpA',360,59],['atpI',475,33],['rps2',520,33],['rpoC2',609,33],['rpoC1',726,33],['rpoB',794,28],['trnC-GCA',902,18],['trnY-GUA',1007,10],['trnT-GGU',1036,24],['psbM',939,33],['trnE-UUC',1012,38],['petN',920,61],['trnD-GUC',999,62],['psbC',1115,14],['trnG-GCC',1189,14],['trnS-UGA',1121,36],['rps14',1194,32],['psbD',1096,59],['psbZ',1143,60],['trnfM-CAU',1220,61],['psaA',1311,14],['psaB',1290,43],['ycf3',1400,33],['trnS-GGA',1472,33],['trnT-UGU',1519,13],['ndhK',1607,15],['trnF-GAA',1569,32],['rps4',1470,61],['trnL-UAA',1536,61],['ndhJ',1599,56]];
const geneLabels2 = [['trnV-UAC',93,797],['atpB',167,796],['ndhC',43,814],['atpE',132,822],['ndhK',36,841],['trnM-CAU',119,841],['rbcL',213,813],['accD',263,813],['psaI',307,813],['cemA',356,813],['ycf4',335,836],['petA',396,836],['psbJ',418,813],['psbF',454,793],['psbE',466,813],['petL',512,813],['psbL',444,841],['trnW-CCA',536,786],['psaJ',541,801],['rpl33',565,813],['rpl20',606,798],['petG',520,831],['trnP-UGG',535,844],['rps18',578,832],['clpP',668,794],['psbB',715,794],['psbT',765,783],['psbH',775,817],['rps12',711,837],['psbN',779,837],['petB',816,793],['petD',858,793],['rpoA',901,793],['rpl36',945,783],['rps8',968,794],['rpl16',1020,794],['rps3',1055,773],['rps19',1090,793],['rpl23',1148,793],['ycf2',1260,793],['rps11',933,817],['rpl14',988,817],['trnI-CAU',1167,817],['infA',955,841],['rpl22',1073,841],['rpl2',1114,838],['rps12',1217,836],['trnL-CAA',1408,818],['ndhB',1457,793],['rps7',1508,792],['ycf15',1559,793],['rrn16',1616,793],['trnV-GAC',1613,818]];
const geneLabels3 = [['rrn16',38,1597],['trnI-GAU',103,1574],['rrn23',180,1574],['trnA-UGC',136,1597],['rrn5',249,1560],['rrn4.5',236,1596],['trnN-GUU',299,1576],['trnR-ACG',274,1618],['ndhF',394,1574],['rpl32',447,1570],['rps12',417,1618],['ccsA',491,1596],['trnL-UAG',494,1618],['ndhD',526,1575],['ndhG',618,1574],['psaC',579,1594],['ndhE',598,1618],['ndhI',646,1597],['ndhA',692,1574],['ndhH',745,1574],['rps15',770,1597],['ycf1',874,1574],['trnR-ACG',1007,1563],['rrn5',1007,1577],['trnN-GUU',980,1620],['rrn4.5',1020,1596],['rrn23',1072,1596],['rps12',1074,1616],['trnA-UGC',1142,1574],['rrn16',1214,1573],['ycf15',1270,1573],['trnI-GAU',1175,1616],['trnV-GAC',1257,1596],['rps7',1338,1593],['ndhB',1385,1593],['trnL-CAA',1460,1593]];

// ---------- layout ----------
const SERIF = '"Liberation Serif","Times New Roman",serif';
const ROW_H = 40.47, LEFT = 12, PX_PER_KB = 31.92;
const COLORS = {e:'#8a8aff', u:'#72f8f8', c:'#ff8a8a'};
const GRAY = '#808080', BAR = '#5c5c5c';
const panels = [
 {min:0, max:50, top:70, bands:bands1, dips:dips1, small:small1, ticks:tickLabels1, genes:genes1, labels:geneLabels1, lanes:[27,46,40], strip:[57,68], gap:null},
 {min:50, max:100, top:849, bands:bands2, dips:dips2, small:small2, ticks:tickLabels2, genes:genes2, labels:geneLabels2, lanes:[806,825], strip:[837,847], gap:{rows:gapRows2,b:gapBlank2,p:gapPeak2,t:gapTwin2}},
 {min:100, max:146, top:1629, bands:bands3, dips:dips3, small:small3, ticks:tickLabels3, genes:genes3, labels:geneLabels3, lanes:[1586,1605], strip:[1617,1627], gap:{rows:gapRows3,b:gapBlank3,p:gapPeak3,s:gapSmall3,t:gapTwin3,m:gapMairei3}}
];
function polyOf(d){
  if(Array.isArray(d[0])) return d;
  const k=d[0],y=d[1],w=d[2]||.09,f=d[3]||0;
  return f? [[k-f-w,100],[k-f,y],[k+f,y],[k+f+w,100]] : [[k-w,100],[k,y],[k+w,100]];
}
function evalPoly(p,x){
  if(x<=p[0][0]||x>=p[p.length-1][0]) return 100;
  for(let i=1;i<p.length;i++){ if(x<=p[i][0]){const a=p[i-1],b=p[i];return a[1]+(b[1]-a[1])*(x-a[0])/(b[0]-a[0]);} }
  return 100;
}
function rowCurve(P,r){
  const polys=P.dips[r].map(polyOf);
  if(smallLevel[r]!=null) P.small.forEach(k=>polys.push(polyOf([k,smallLevel[r],.08])));
  if(P.gap&&P.gap.rows[r]) polys.push(P.gap[P.gap.rows[r]]);
  let xs=[P.min,P.max];
  polys.forEach(p=>p.forEach(q=>{if(q[0]>=P.min&&q[0]<=P.max)xs.push(q[0]);}));
  xs=[...new Set(xs)].sort((a,b)=>a-b);
  return xs.map(x=>{let y=100;polys.forEach(p=>{const v=evalPoly(p,x);if(v<y)y=v;});return [x,y];});
}
function midSegments(curve){
  const out=[];let s=null,last=null;
  curve.forEach(pt=>{ if(pt[1]<75){ if(s===null)s=pt[0]; last=pt[0]; } else { if(s!==null&&last-s>.12)out.push([s,last]); s=null; } });
  if(s!==null&&last-s>.12)out.push([s,last]);
  return out;
}
const grids=[],xAxes=[],yAxes=[],series=[],graphic=[];
function renderBands(params,api){
  const a=api.coord([api.value(0),100]),b=api.coord([api.value(1),50]),t=api.value(2);
  if(t===3){ return {type:'rect',shape:{x:a[0]-.5,y:(a[1]+b[1])/2-1.5,width:1,height:3},style:{fill:'#4a4a6a'}}; }
  return {type:'rect',shape:{x:a[0],y:a[1],width:b[0]-a[0],height:b[1]-a[1]},style:{fill:[COLORS.e,COLORS.u,COLORS.c][t]}};
}
const typeIdx={e:0,u:1,c:2};
panels.forEach((P,pi)=>{
  const width=(P.max-P.min)*PX_PER_KB;
  const minor=[];
  P.ticks.forEach((t,i)=>{ const n=P.ticks[i+1]; if(n!==undefined&&n-t===3) minor.push(t+1.5); });
  const allTicks=[...P.ticks,...minor].sort((a,b)=>a-b);
  const bandData=P.bands.map(b=>[b[0],b[1],typeIdx[b[2]]]).concat(allTicks.map(t=>[t,t,3]));
  for(let r=0;r<17;r++){
    const gi=grids.length, yi=yAxes.length, rowTop=P.top+r*ROW_H;
    grids.push({left:LEFT,width:width,top:rowTop,height:ROW_H});
    xAxes.push({type:'value',gridIndex:gi,min:P.min,max:P.max,position:'top',z:5,
      axisLine:{show:true,onZero:false,lineStyle:{color:BAR,width:4.5}},axisTick:{show:false},axisLabel:{show:false},splitLine:{show:false}});
    yAxes.push({type:'value',gridIndex:gi,min:50,max:100,show:false,splitLine:{show:false}});
    series.push({type:'custom',xAxisIndex:gi,yAxisIndex:yi,z:2,silent:true,animation:false,renderItem:renderBands,encode:{x:[0,1]},data:bandData});
    const curve=rowCurve(P,r);
    series.push({type:'line',xAxisIndex:gi,yAxisIndex:yi,z:3,silent:true,animation:false,showSymbol:false,smooth:false,
      lineStyle:{color:'#000',width:1},areaStyle:{color:'#fff',opacity:1,origin:'end'},data:curve});
    const segs=midSegments(curve);
    if(segs.length) series.push({type:'custom',xAxisIndex:gi,yAxisIndex:yi,z:4,silent:true,animation:false,
      renderItem:(p,api)=>{const a=api.coord([api.value(0),75]),b=api.coord([api.value(1),75]);return {type:'line',shape:{x1:a[0],y1:a[1],x2:b[0],y2:b[1]},style:{stroke:'#8c8c8c',lineWidth:2}};},
      encode:{x:[0,1]},data:segs});
    const labelX=LEFT+width+4;
    graphic.push({type:'text',x:labelX,y:rowTop+(r===0?2:4.5),z:61,silent:true,style:{text:pctLabels[0],font:'bold 21px '+SERIF,fill:'#000',textVerticalAlign:'middle',verticalAlign:'middle'}});
    graphic.push({type:'text',x:labelX,y:rowTop+ROW_H-8,z:61,silent:true,style:{text:pctLabels[1],font:'bold 21px '+SERIF,fill:'#000',textVerticalAlign:'middle',verticalAlign:'middle'}});
  }
  // panel frame with the kb axis, gene arrows and annotation strip
  const gi=grids.length;
  grids.push({left:LEFT,width:width,top:P.top,height:17*ROW_H});
  xAxes.push({type:'value',gridIndex:gi,min:P.min,max:P.max,position:'bottom',z:7,
    axisLine:{show:true,onZero:false,lineStyle:{color:'#666',width:3}},
    axisTick:{show:true,length:5,customValues:allTicks,lineStyle:{color:'#444',width:1}},
    axisLabel:{show:true,customValues:P.ticks,formatter:v=>v+'k',margin:3,padding:[0,0,0,10],color:'#000',fontFamily:SERIF,fontWeight:'bold',fontSize:21,hideOverlap:false},
    splitLine:{show:false}});
  const frameY=yAxes.length;
  yAxes.push({type:'value',gridIndex:gi,min:0,max:1,position:'left',z:7,axisLine:{show:true,onZero:false,lineStyle:{color:'#666',width:3}},axisTick:{show:false},axisLabel:{show:false},splitLine:{show:false}});
  yAxes.push({type:'value',gridIndex:gi,min:0,max:1,position:'right',z:7,axisLine:{show:true,onZero:false,lineStyle:{color:'#666',width:3}},axisTick:{show:false},axisLabel:{show:false},splitLine:{show:false}});
  series.push({type:'line',xAxisIndex:gi,yAxisIndex:frameY,z:8,silent:true,animation:false,showSymbol:false,lineStyle:{color:'#2a2a2a',width:2},data:[[P.min+25,0],[P.min+25,1]]});
  const strip=P.strip, lanes=P.lanes;
  series.push({type:'custom',xAxisIndex:gi,yAxisIndex:frameY,z:2,silent:true,animation:false,clip:false,encode:{x:[0,1]},
    renderItem:(p,api)=>{const a=api.coord([api.value(0),0])[0],b=api.coord([api.value(1),0])[0],t=api.value(2);
      return {type:'rect',shape:{x:a,y:strip[0],width:b-a,height:strip[1]-strip[0]+2},style:{fill:[COLORS.e,COLORS.u][t]}};},
    data:P.bands.filter(b=>b[2]!=='c').map(b=>[b[0],b[1],typeIdx[b[2]]])});
  series.push({type:'custom',xAxisIndex:gi,yAxisIndex:frameY,z:2,silent:true,animation:false,clip:false,encode:{x:[0,1]},
    renderItem:(p,api)=>{
      const a=api.coord([api.value(0),0])[0],b=api.coord([api.value(1),0])[0],d=api.value(2),y=lanes[api.value(3)];
      const len=Math.min(6,b-a), tipX=d>0?b:a, baseX=d>0?b-len:a+len, tailX=d>0?a:b;
      return {type:'polygon',shape:{points:[[tailX,y-2],[baseX,y-2],[baseX,y-4.5],[tipX,y],[baseX,y+4.5],[baseX,y+2],[tailX,y+2]]},style:{fill:GRAY}};},
    data:P.genes});
  P.labels.forEach(l=>graphic.push({type:'text',x:l[1],y:l[2],z:60,silent:true,style:{text:l[0],font:'bold 21px '+SERIF,fill:'#000',textAlign:'center',textVerticalAlign:'middle',align:'center',verticalAlign:'middle'}}));
});

// species labels
function speciesText(name){
  if(name.indexOf(' var. ')>=0){const s=name.split(' var. ');return '{i|'+s[0]+'} {b|var.} {i|'+s[1]+'}';}
  return '{i|'+name+'}';
}
const speciesTop=1649, speciesStep=40.47, speciesX=1531;
const rich=c=>({i:{font:'italic bold 23px '+SERIF,fill:c,color:c},b:{font:'bold 23px '+SERIF,fill:c,color:c}});
graphic.push({type:'text',x:speciesX,y:1612,z:60,silent:true,style:{text:'{i|'+referenceName+'} {b|(reference)}',rich:rich('#ff0000'),textVerticalAlign:'middle',verticalAlign:'middle'}});
speciesNames.forEach((n,i)=>{const c=speciesRed[i]?'#ff0000':'#000';
  graphic.push({type:'text',x:speciesX,y:speciesTop+i*speciesStep,z:60,silent:true,style:{text:speciesText(n),rich:rich(c),textVerticalAlign:'middle',verticalAlign:'middle'}});});
// clade brackets
const cladeLayout=[[1639,1782,1717,'#4a74d8'],[1802,1824,1816,'#5fd14a'],[1843,1988,1920,'#f07a10'],[2006,2069,2035,'#a92cf0'],[2085,2232,2158,'#f05a6e'],[2248,2306,2278,'#000']];
cladeNames.forEach((n,i)=>{const L=cladeLayout[i];
  graphic.push({type:'line',z:60,silent:true,shape:{x1:1784,y1:L[0],x2:1784,y2:L[1]},style:{stroke:L[3],lineWidth:2}});
  graphic.push({type:'text',x:1786,y:L[2],z:60,silent:true,style:{text:n,font:'bold 24.5px '+SERIF,fill:L[3],textVerticalAlign:'middle',verticalAlign:'middle'}});});
// legend
const legendY=[85,123,161,199,237], legendFill=[null,COLORS.e,COLORS.u,COLORS.c,'#c4c4c4'];
legendNames.forEach((n,i)=>{
  graphic.push({type:'text',x:1778,y:legendY[i]+3-(i==0?1:0),z:60,silent:true,style:{text:n,font:'bold 36px '+SERIF,fill:'#000',textVerticalAlign:'middle',verticalAlign:'middle'}});
  if(i==0) graphic.push({type:'polygon',z:60,silent:true,shape:{points:[[1712,82],[1735,82],[1735,77],[1754,86.5],[1735,96],[1735,91],[1712,91]]},style:{fill:GRAY}});
  else graphic.push({type:'rect',z:60,silent:true,shape:{x:1712,y:legendY[i]-14.5,width:32,height:29},style:{fill:legendFill[i]}});
});

const chart=echarts.init(document.getElementById('c'),null,{renderer:'canvas',width:1944,height:2338});
chart.setOption({animation:false,backgroundColor:'#fff',grid:grids,xAxis:xAxes,yAxis:yAxes,series:series,graphic:{elements:graphic}});
</script></body></html>
